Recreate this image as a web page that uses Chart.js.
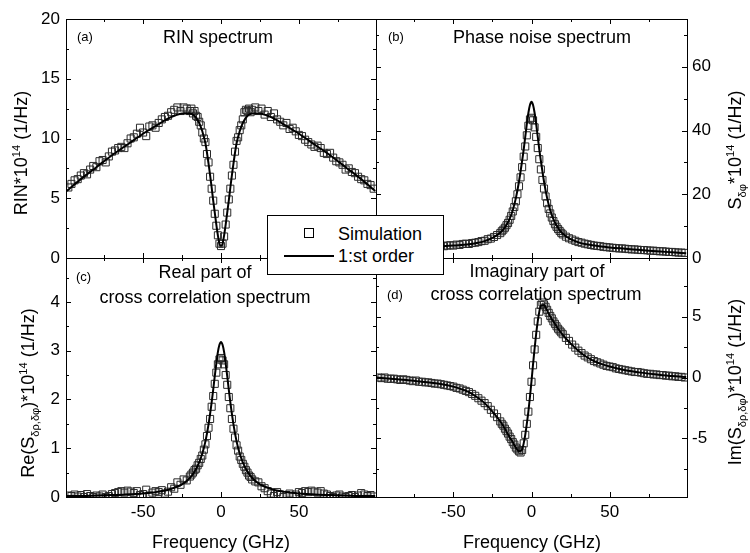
<!DOCTYPE html>
<html>
<head>
<meta charset="utf-8">
<script src="https://cdn.jsdelivr.net/npm/chart.js@4.4.1/dist/chart.umd.min.js"></script>
<style>
  body { margin: 0; background: #fff; }
  #wrap { position: relative; width: 750px; height: 553px; overflow: hidden; background: #fff;
          font-family: 'Liberation Sans', Arial, sans-serif; color: #000; }
  #wrap canvas { position: absolute; left: 0; top: 0; }
  .t { position: absolute; white-space: nowrap; font-size: 18px; line-height: 1; transform: translate(-50%, -50%); }
  .t.tag { font-size: 13px; transform: translate(0, -50%); }
  .t.yt { transform: translate(-50%, -50%) rotate(-90deg); }
  sup { font-size: 0.62em; vertical-align: 0.6em; line-height: 0; }
  sub { font-size: 0.62em; vertical-align: -0.45em; line-height: 0; }
  #legend { position: absolute; left: 267px; top: 215px; width: 175px; height: 58px;
            border: 1px solid #000; background: #fff; z-index: 5; }
  #legend .sq { position: absolute; left: 36px; width: 8px; height: 8px; border: 1px solid #000; }
  #legend .ln { position: absolute; left: 16px; width: 50px; height: 2px; background: #000; }
  #legend .lb { position: absolute; left: 70px; font-size: 18px; line-height: 1; transform: translateY(-50%); }
</style>
</head>
<body>
<div id="wrap">
  <canvas id="pa" width="750" height="553"></canvas>
  <canvas id="pb" width="750" height="553"></canvas>
  <canvas id="pc" width="750" height="553"></canvas>
  <canvas id="pd" width="750" height="553"></canvas>

  <div class="t tag" style="left:77px;top:35.5px">(a)</div>
  <div class="t" style="left:218px;top:37px">RIN spectrum</div>
  <div class="t tag" style="left:388px;top:35.5px">(b)</div>
  <div class="t" style="left:542px;top:37px">Phase noise spectrum</div>
  <div class="t tag" style="left:76px;top:275.5px">(c)</div>
  <div class="t" style="left:205px;top:272px">Real part of</div>
  <div class="t" style="left:205px;top:297px">cross correlation spectrum</div>
  <div class="t tag" style="left:387px;top:293.5px">(d)</div>
  <div class="t" style="left:537px;top:271px">Imaginary part of</div>
  <div class="t" style="left:536px;top:294px">cross correlation spectrum</div>

  <div class="t" style="left:221px;top:542px">Frequency (GHz)</div>
  <div class="t" style="left:532px;top:542px">Frequency (GHz)</div>

  <div class="t yt" style="left:21px;top:153px">RIN*10<sup>14</sup> (1/Hz)</div>
  <div class="t yt" style="left:735px;top:150px">S<sub>δφ</sub>*10<sup>14</sup> (1/Hz)</div>
  <div class="t yt" style="left:28px;top:393px">Re(S<sub>δρ,δφ</sub>)*10<sup>14</sup> (1/Hz)</div>
  <div class="t yt" style="left:735px;top:382px">Im(S<sub>δρ,δφ</sub>)*10<sup>14</sup> (1/Hz)</div>

  <div id="legend"></div>
</div>

<script>
// frequency grid of the simulated points (GHz)
const simFreq = [-98,-96,-94,-92,-90,-88,-86,-84,-82,-80,-78,-76,-74,-72,-70,-68,-66,-64,-62,-60,
  -58,-56,-54,-52,-50,-48,-46,-44,-42,-40,-38,-36,-34,-32,-30,-28,-26,-24,-22,
  -20,-19,-18,-17,-16,-15,-14,-13,-12,-11,-10,-9,-8,-7,-6,-5,-4,-3,-2,-1,0,
  1,2,3,4,5,6,7,8,9,10,11,12,13,14,15,16,17,18,19,20,
  22,24,26,28,30,32,34,36,38,40,42,44,46,48,50,52,54,56,58,60,
  62,64,66,68,70,72,74,76,78,80,82,84,86,88,90,92,94,96,98];

// frequency grid of the 1:st order curves (GHz)
const lineFreq = [-99,-90,-80,-70,-60,-50,-45,-40,-35,-30,-25,-20,-17,-14,-12,-10,-8,-6,-5,-4,-3,-2,-1,
  0,1,2,3,4,5,6,8,10,12,14,17,20,25,30,35,40,45,50,60,70,80,90,99];

const seriesNames = ['Simulation', '1:st order'];

// tick labels
const freqTicks = [-50, 0, 50];
const rinTicks = [0, 5, 10, 15, 20];
const phaseTicks = [0, 20, 40, 60];
const reTicks = [0, 1, 2, 3, 4];
const imTicks = [-5, 0, 5];

// (a) RIN spectrum
const rinSim = [5.9,6.2,6.5,6.6,6.9,7.1,7.0,7.4,7.7,7.6,
  8.1,8.2,8.0,8.5,8.9,9.0,9.2,9.3,9.2,9.6,
  10.0,10.1,10.4,10.9,10.5,10.2,11.0,11.1,10.9,11.3,
  11.6,11.8,11.9,12.2,12.4,12.6,12.3,12.6,12.5,
  12.3,12.5,12.1,12.3,11.9,11.8,11.4,11.1,10.5,10.0,
  9.7,8.7,8.0,6.8,5.8,4.8,3.7,2.7,1.9,1.2,
  1.0,
  1.2,1.8,2.8,3.8,4.9,5.8,6.9,7.8,8.9,9.8,
  10.1,10.7,11.1,11.6,12.2,12.4,12.3,12.5,12.2,12.4,
  12.6,12.3,12.5,12.0,12.3,11.8,12.1,11.6,11.4,11.1,
  11.3,10.8,10.9,10.6,10.3,10.2,9.9,9.7,9.5,9.3,
  9.4,9.2,8.8,8.7,8.8,8.4,8.1,8.0,7.8,7.4,
  7.5,7.2,7.1,6.8,6.6,6.5,6.2,6.1,5.8];
const rinFit = [5.6,6.6,7.6,8.6,9.5,10.4,10.8,11.2,11.6,11.9,12.1,12.1,11.9,11.3,10.6,9.6,7.9,5.9,4.8,3.8,2.8,1.9,1.2,
  1.0,
  1.2,1.9,2.8,3.8,4.8,5.9,7.9,9.6,10.6,11.3,11.9,12.1,12.1,11.9,11.6,11.2,10.8,10.4,9.5,8.6,7.6,6.6,5.6];

// (b) phase noise spectrum
const phaseSim = [2.7,2.6,2.8,2.7,2.9,2.8,3.0,2.9,3.1,3.1,
  3.2,3.1,3.3,3.4,3.3,3.5,3.4,3.6,3.7,3.6,
  3.8,3.7,3.9,4.0,3.9,4.2,4.1,4.4,4.5,4.4,
  4.7,4.8,5.0,5.3,5.4,5.9,6.1,6.6,7.2,
  7.8,8.4,8.9,9.5,10.3,11.0,12.0,13.2,14.6,16.0,
  17.8,20.0,22.5,25.3,28.5,31.8,35.0,38.5,41.5,43.5,
  44.0,
  43.2,41.0,38.0,34.5,31.0,27.8,24.5,21.8,19.3,17.2,
  15.4,14.0,12.7,11.6,10.6,9.8,9.1,8.5,7.9,7.4,
  6.7,6.2,5.8,5.4,5.0,4.8,4.5,4.3,4.1,3.9,
  3.8,3.7,3.5,3.4,3.3,3.2,3.1,3.0,3.0,2.9,
  2.8,2.7,2.7,2.6,2.5,2.5,2.4,2.3,2.3,2.2,
  2.1,2.1,2.0,1.9,1.9,1.8,1.7,1.7,1.6];
const phaseFit = [2.6,2.8,3.0,3.3,3.6,3.9,4.1,4.3,4.7,5.3,6.3,7.9,9.6,12.3,15.0,18.8,24.0,30.5,34.0,38.0,42.0,45.5,48.0,
  49.0,
  48.0,45.5,42.0,38.0,34.0,30.5,24.0,18.8,15.0,12.2,9.4,7.6,5.9,4.9,4.3,3.9,3.6,3.3,2.9,2.5,2.1,1.8,1.5];

// (c) real part of cross correlation spectrum
const reSim = [0.03,0.02,0.05,0.01,0.04,0.00,0.06,0.02,0.00,0.03,
  0.01,0.05,0.00,0.02,0.06,0.08,0.10,0.12,0.09,0.13,
  0.11,0.08,0.12,0.04,0.06,0.15,0.03,0.09,0.12,0.10,
  0.14,0.07,0.11,0.20,0.17,0.30,0.25,0.36,0.34,
  0.42,0.46,0.50,0.55,0.58,0.65,0.70,0.78,0.85,0.97,
  1.08,1.25,1.42,1.60,1.85,2.07,2.32,2.55,2.72,2.82,
  2.85,
  2.80,2.72,2.50,2.30,2.05,1.82,1.60,1.40,1.22,1.06,
  0.95,0.83,0.76,0.68,0.62,0.55,0.50,0.44,0.41,0.36,
  0.32,0.30,0.22,0.18,0.12,0.07,0.02,0.10,0.05,0.00,
  0.04,0.07,0.02,0.05,0.10,0.08,0.12,0.10,0.13,0.11,
  0.09,0.12,0.07,0.05,0.02,0.00,0.03,0.05,0.01,0.00,
  0.02,0.04,0.00,0.03,0.08,0.05,0.02,0.04,0.01];
const reFit = [0.02,0.02,0.03,0.04,0.05,0.07,0.085,0.11,0.14,0.19,0.26,0.39,0.52,0.71,0.89,1.14,1.49,1.94,2.20,2.48,2.74,2.97,3.12,
  3.18,
  3.12,2.97,2.74,2.48,2.20,1.94,1.49,1.14,0.89,0.71,0.52,0.39,0.26,0.19,0.14,0.11,0.085,0.07,0.05,0.04,0.03,0.02,0.02];

// (d) imaginary part of cross correlation spectrum
const imSim = [0.0,-0.05,0.0,-0.1,-0.1,-0.1,-0.15,-0.2,-0.15,-0.2,
  -0.25,-0.3,-0.25,-0.35,-0.35,-0.4,-0.4,-0.45,-0.5,-0.5,
  -0.55,-0.6,-0.65,-0.7,-0.75,-0.85,-0.9,-1.0,-1.1,-1.2,
  -1.35,-1.5,-1.7,-1.9,-2.1,-2.35,-2.65,-2.95,-3.25,
  -3.6,-3.8,-3.95,-4.2,-4.4,-4.6,-4.85,-5.05,-5.3,-5.5,
  -5.75,-5.9,-6.05,-6.15,-5.95,-5.4,-4.7,-3.8,-2.8,-1.6,
  -0.35,
  1.0,2.3,3.5,4.6,5.4,5.95,6.15,6.0,5.8,5.55,
  5.3,5.05,4.85,4.6,4.4,4.2,4.0,3.85,3.7,3.55,
  3.25,3.0,2.7,2.45,2.2,2.0,1.8,1.65,1.5,1.35,
  1.25,1.15,1.05,0.95,0.9,0.85,0.75,0.7,0.65,0.6,
  0.55,0.5,0.45,0.45,0.4,0.35,0.3,0.3,0.25,0.25,
  0.2,0.2,0.15,0.15,0.1,0.1,0.05,0.05,0.0];
const imFit = [0.0,-0.1,-0.2,-0.35,-0.5,-0.75,-0.95,-1.2,-1.6,-2.1,-2.8,-3.6,-4.2,-4.9,-5.3,-5.75,-6.05,-5.9,-5.4,-4.7,-3.8,-2.8,-1.6,
  -0.3,
  1.1,2.4,3.6,4.6,5.4,5.9,5.95,5.5,5.0,4.6,4.0,3.5,2.8,2.2,1.7,1.35,1.1,0.9,0.6,0.4,0.25,0.12,0.05];

const W = 750, H = 553;
const freqMin = -99.5, freqMax = 99.5;

Chart.defaults.font.family = "'Liberation Sans', Arial, sans-serif";
Chart.defaults.color = '#000';

// box round each panel with small inward ticks on all four sides
const frameTicks = {
  id: 'frameTicks',
  afterDatasetsDraw(chart) {
    const { ctx, chartArea: a, scales } = chart;
    const marks = (scale) => {
      const major = scale.ticks.map(t => t.value);
      const half = (major[1] - major[0]) / 2;
      const start = Math.ceil(scale.min / half - 1e-9);
      const out = [];
      for (let i = start; i * half <= scale.max + 1e-9; i++) {
        const v = i * half;
        out.push({ p: scale.getPixelForValue(v), len: major.some(m => Math.abs(m - v) < 1e-6) ? 5 : 3 });
      }
      return out;
    };
    ctx.save();
    ctx.strokeStyle = '#000';
    ctx.lineWidth = 1;
    ctx.beginPath();
    marks(scales.x).forEach(m => {
      const x = Math.round(m.p) + 0.5;
      ctx.moveTo(x, a.bottom); ctx.lineTo(x, a.bottom - m.len);
      ctx.moveTo(x, a.top); ctx.lineTo(x, a.top + m.len);
    });
    marks(scales.y).forEach(m => {
      const y = Math.round(m.p) + 0.5;
      ctx.moveTo(a.left, y); ctx.lineTo(a.left + m.len, y);
      ctx.moveTo(a.right, y); ctx.lineTo(a.right - m.len, y);
    });
    ctx.stroke();
    ctx.strokeRect(Math.round(a.left) + 0.5, Math.round(a.top) + 0.5,
                   Math.round(a.right - a.left), Math.round(a.bottom - a.top));
    ctx.restore();
  }
};

function panel(id, area, yAxis, showX, sim, fit) {
  const left = yAxis.position === 'left';
  return new Chart(document.getElementById(id), {
    type: 'scatter',
    data: {
      datasets: [
        {
          type: 'line',
          label: seriesNames[1],
          data: lineFreq.map((f, i) => ({ x: f, y: fit[i] })),
          borderColor: '#000',
          borderWidth: 2,
          pointRadius: 0,
          cubicInterpolationMode: 'monotone',
          clip: 0
        },
        {
          label: seriesNames[0],
          data: simFreq.map((f, i) => ({ x: f, y: sim[i] })),
          pointStyle: 'rect',
          pointRadius: 5,
          pointBorderWidth: 1,
          pointBorderColor: '#2a2a2a',
          pointBackgroundColor: 'rgba(255,255,255,0)',
          clip: 0
        }
      ]
    },
    options: {
      responsive: false,
      animation: false,
      devicePixelRatio: 1,
      events: [],
      layout: {
        padding: {
          left: left ? 0 : area.left,
          right: left ? W - area.right : 0,
          top: area.top,
          bottom: showX ? 0 : H - area.bottom
        }
      },
      plugins: { legend: { display: false }, tooltip: { enabled: false } },
      scales: {
        x: {
          type: 'linear', position: 'bottom', min: freqMin, max: freqMax,
          grid: { display: false, drawTicks: false }, border: { display: false },
          ticks: { display: showX, padding: 5, maxRotation: 0, font: { size: 17 } },
          afterBuildTicks: s => { s.ticks = freqTicks.map(v => ({ value: v })); },
          afterFit: s => { s.height = showX ? H - area.bottom : 0; }
        },
        y: {
          type: 'linear', position: yAxis.position, min: yAxis.min, max: yAxis.max,
          grid: { display: false, drawTicks: false }, border: { display: false },
          ticks: { padding: left ? 6 : 5, font: { size: 17 } },
          afterBuildTicks: s => { s.ticks = yAxis.ticks.map(v => ({ value: v })); },
          afterFit: s => { s.width = left ? area.left : W - area.right; }
        }
      }
    },
    plugins: [frameTicks]
  });
}

panel('pa', { left: 66, top: 19, right: 376, bottom: 258 }, { position: 'left', min: 0, max: 20, ticks: rinTicks }, false, rinSim, rinFit);
panel('pb', { left: 376, top: 19, right: 687, bottom: 258 }, { position: 'right', min: 0, max: 75, ticks: phaseTicks }, false, phaseSim, phaseFit);
panel('pc', { left: 66, top: 258, right: 376, bottom: 497 }, { position: 'left', min: 0, max: 4.9, ticks: reTicks }, true, reSim, reFit);
panel('pd', { left: 376, top: 258, right: 687, bottom: 497 }, { position: 'right', min: -9.8, max: 9.8, ticks: imTicks }, true, imSim, imFit);

// legend box
const legend = document.getElementById('legend');
legend.innerHTML =
  '<span class="sq" style="top:12px"></span><span class="lb" style="top:18px">' + seriesNames[0] + '</span>' +
  '<span class="ln" style="top:39px"></span><span class="lb" style="top:40px">' + seriesNames[1] + '</span>';
</script>
</body>
</html>
